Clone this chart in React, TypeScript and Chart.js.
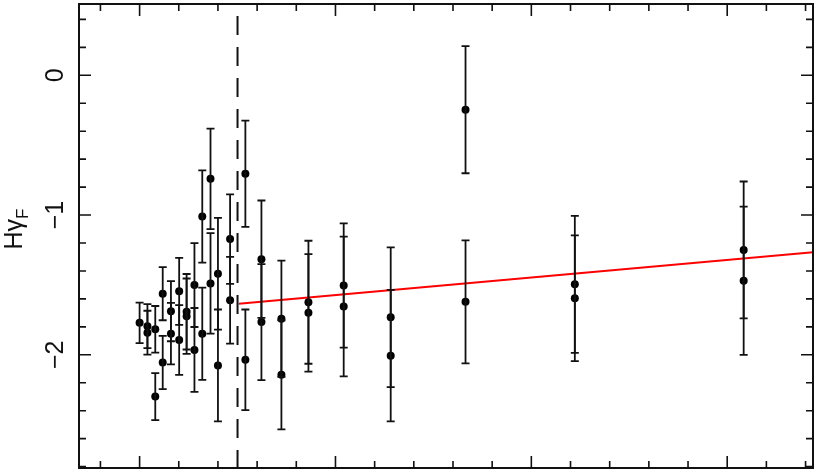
import React, { useEffect, useRef } from "react";
import { Chart, registerables } from "chart.js";

Chart.register(...registerables);

// x positions (axis units; major ticks at 5, 10, 15, 20)
const xPositions = [5.0, 5.2, 5.2, 5.4, 5.4, 5.59, 5.59, 5.8, 5.8, 6.01, 6.01, 6.2, 6.2, 6.4, 6.4, 6.6, 6.6, 6.81, 6.81, 7.0, 7.0, 7.31, 7.31, 7.7, 7.7, 8.11, 8.11, 8.62, 8.62, 9.31, 9.31, 10.21, 10.21, 11.41, 11.41, 13.32, 13.32, 16.11, 16.11, 20.42, 20.42];
// H gamma_F values
const hgValues = [-1.771, -1.795, -1.842, -1.818, -2.299, -1.563, -2.055, -1.688, -1.849, -1.546, -1.894, -1.692, -1.724, -1.501, -1.965, -1.011, -1.849, -0.741, -1.489, -1.42, -2.076, -1.172, -1.61, -0.705, -2.036, -1.316, -1.766, -1.742, -2.143, -1.624, -1.7, -1.504, -1.655, -1.731, -2.006, -0.246, -1.621, -1.496, -1.596, -1.25, -1.47];
// symmetric errors
const hgErrors = [0.145, 0.157, 0.157, 0.167, 0.168, 0.19, 0.19, 0.215, 0.22, 0.24, 0.25, 0.27, 0.27, 0.3, 0.3, 0.33, 0.33, 0.36, 0.36, 0.4, 0.4, 0.32, 0.31, 0.38, 0.36, 0.42, 0.415, 0.416, 0.39, 0.44, 0.42, 0.445, 0.5, 0.5, 0.47, 0.455, 0.44, 0.49, 0.45, 0.49, 0.53];

// linear fit line
const fitX = [7.53, 22.19];
const fitY = [-1.634, -1.266];

// dashed divider
const dividerX = 7.5;

// axis ranges and ticks
const xMin = 3.453;
const xMax = 22.19;
const yMin = -2.81;
const yMax = 0.51;
const yLabelTicks = [0, -1, -2];
const yMinorStep = 0.2;
const xMajorTicks = [5, 10, 15, 20];
const xMinorStep = 1;

const INK = "#111";

const overlay = {
  id: "overlay",
  afterDatasetsDraw(chart: any) {
    const ctx = chart.ctx;
    const xs = chart.scales.x;
    const ys = chart.scales.y;
    const area = chart.chartArea;
    ctx.save();
    // error bars
    ctx.strokeStyle = INK;
    ctx.lineWidth = 1.8;
    for (let i = 0; i < xPositions.length; i++) {
      const px = xs.getPixelForValue(xPositions[i]);
      const pTop = ys.getPixelForValue(hgValues[i] + hgErrors[i]);
      const pBot = ys.getPixelForValue(hgValues[i] - hgErrors[i]);
      ctx.beginPath();
      ctx.moveTo(px, pTop);
      ctx.lineTo(px, pBot);
      ctx.moveTo(px - 4, pTop);
      ctx.lineTo(px + 4, pTop);
      ctx.moveTo(px - 4, pBot);
      ctx.lineTo(px + 4, pBot);
      ctx.stroke();
    }
    // dashed divider
    const dx = xs.getPixelForValue(dividerX);
    ctx.lineWidth = 2;
    ctx.setLineDash([19, 12]);
    ctx.beginPath();
    ctx.moveTo(dx, area.top + 12);
    ctx.lineTo(dx, area.bottom);
    ctx.stroke();
    ctx.setLineDash([]);
    ctx.restore();
  },
  afterDraw(chart: any) {
    const ctx = chart.ctx;
    const xs = chart.scales.x;
    const ys = chart.scales.y;
    const a = chart.chartArea;
    ctx.save();
    ctx.strokeStyle = INK;
    ctx.lineWidth = 2;
    ctx.strokeRect(a.left, a.top, a.right - a.left, a.bottom - a.top);
    ctx.lineWidth = 1.6;
    const major = 12;
    const minor = 7;
    ctx.beginPath();
    // x ticks
    for (let v = Math.ceil(xMin); v <= xMax; v += xMinorStep) {
      const p = xs.getPixelForValue(v);
      const len = xMajorTicks.includes(v) ? major : minor;
      ctx.moveTo(p, a.bottom);
      ctx.lineTo(p, a.bottom - len);
      ctx.moveTo(p, a.top);
      ctx.lineTo(p, a.top + len);
    }
    // y ticks
    for (let k = Math.ceil(yMin / yMinorStep); k * yMinorStep <= yMax; k++) {
      const v = k * yMinorStep;
      const p = ys.getPixelForValue(v);
      const isMajor = Math.abs(v - Math.round(v)) < 1e-6;
      const len = isMajor ? major : minor;
      ctx.moveTo(a.left, p);
      ctx.lineTo(a.left + len, p);
      ctx.moveTo(a.right, p);
      ctx.lineTo(a.right - len, p);
    }
    ctx.stroke();

    // y labels (rotated)
    ctx.fillStyle = INK;
    ctx.font = "25px 'Liberation Sans', Arial, sans-serif";
    ctx.textAlign = "center";
    ctx.textBaseline = "alphabetic";
    for (const v of yLabelTicks) {
      const p = ys.getPixelForValue(v);
      const txt = v === 0 ? "0" : "\u2212" + Math.abs(v);
      ctx.save();
      ctx.translate(63, p);
      ctx.rotate(-Math.PI / 2);
      ctx.fillText(txt, 0, 0);
      ctx.restore();
    }

    // y title H gamma_F
    ctx.save();
    ctx.translate(22, 229);
    ctx.rotate(-Math.PI / 2);
    const mainFont = "25px 'Liberation Sans', Arial, sans-serif";
    const subFont = "17px 'Liberation Sans', Arial, sans-serif";
    ctx.font = mainFont;
    const w1 = ctx.measureText("H\u03b3").width;
    ctx.font = subFont;
    const w2 = ctx.measureText("F").width;
    const start = -(w1 + w2) / 2;
    ctx.textAlign = "left";
    ctx.font = mainFont;
    ctx.fillText("H\u03b3", start, 0);
    ctx.font = subFont;
    ctx.fillText("F", start + w1, 6);
    ctx.restore();

    ctx.restore();
  },
};

export default function App() {
  const ref = useRef<HTMLCanvasElement | null>(null);
  useEffect(() => {
    if (!ref.current) return;
    const points = xPositions.map((x, i) => ({ x, y: hgValues[i] }));
    const fit = fitX.map((x, i) => ({ x, y: fitY[i] }));
    const chart = new Chart(ref.current, {
      type: "scatter",
      data: {
        datasets: [
          {
            type: "line",
            data: fit,
            borderColor: "#ff0000",
            borderWidth: 2,
            pointRadius: 0,
            fill: false,
            order: 2,
          } as any,
          {
            data: points,
            backgroundColor: "#000",
            borderColor: "#000",
            borderWidth: 0,
            pointRadius: 4,
            order: 1,
          },
        ],
      },
      options: {
        animation: false,
        responsive: false,
        devicePixelRatio: 1,
        layout: { padding: { left: 79, top: 2, right: 2, bottom: 2 } },
        plugins: { legend: { display: false }, tooltip: { enabled: false } },
        scales: {
          x: { type: "linear", min: xMin, max: xMax, display: false },
          y: { type: "linear", min: yMin, max: yMax, display: false },
        },
      },
      plugins: [overlay],
    });
    return () => chart.destroy();
  }, []);
  return (
    <div style={{ position: "fixed", left: 0, top: 0, width: 817, height: 472, background: "#fff" }}>
      <canvas ref={ref} width={817} height={472} style={{ width: 817, height: 472 }} />
    </div>
  );
}
